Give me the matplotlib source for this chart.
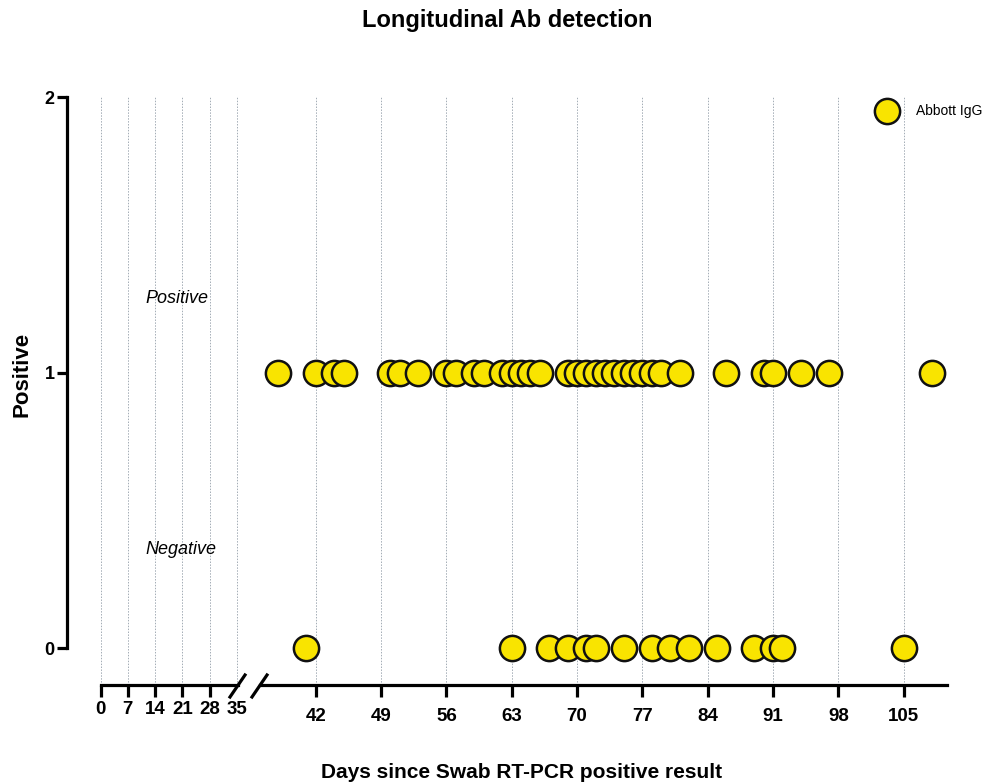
import matplotlib
matplotlib.use("Agg")
import matplotlib.pyplot as plt
from matplotlib.lines import Line2D

plt.rcParams['font.family'] = ['Liberation Sans', 'DejaVu Sans']

# days of each Abbott IgG result
pos_days = [38, 42, 44, 45, 50, 51, 53, 56, 57, 59, 60, 62, 63, 64, 65, 66,
            69, 70, 71, 72, 73, 74, 75, 76, 77, 78, 79, 81, 86, 90, 91, 94, 97, 108]
neg_days = [41, 63, 67, 69, 71, 72, 75, 78, 80, 82, 85, 89, 91, 92, 105]
pos_vals = [1] * len(pos_days)
neg_vals = [0] * len(neg_days)

left_ticks = [0, 7, 14, 21, 28, 35]
right_ticks = [42, 49, 56, 63, 70, 77, 84, 91, 98, 105]
y_ticks = [0, 1, 2]

W, H = 993, 783
def fx(px):
    return px / W
def fy(py):
    return 1 - py / H

fig = plt.figure(figsize=(W / 100, H / 100), dpi=100)

ybot = -0.134
ax1 = fig.add_axes([fx(100.7), fy(685), fx(237.9) - fx(100.7), fy(97) - fy(685)])
ax2 = fig.add_axes([fx(259.7), fy(685), fx(946.6) - fx(259.7), fy(97) - fy(685)])

yellow = '#f9e400'
for ax in (ax1, ax2):
    ax.set_ylim(ybot, 2)
    ax.spines['top'].set_visible(False)
    ax.spines['right'].set_visible(False)
    ax.spines['bottom'].set_linewidth(2.3)
    ax.grid(axis='x', color='#a3acb5', linestyle=(0, (1.5, 1.5)), linewidth=0.7)
    ax.set_axisbelow(True)
    ax.patch.set_visible(False)

ax1.set_xlim(0, 35.3)
ax1.set_xticks(left_ticks)
ax1.set_yticks(y_ticks)
ax1.spines['left'].set_position(('outward', 24.3))
ax1.spines['left'].set_bounds(0, 2)
ax1.spines['left'].set_linewidth(2.3)
ax1.tick_params(axis='x', direction='out', length=8.6, width=2.3, pad=3, labelsize=13.5)
ax1.tick_params(axis='y', direction='out', length=7, width=2.3, pad=2, labelsize=13)
ax1.xaxis.get_major_ticks()[-1].tick1line.set_visible(False)
for lbl in ax1.get_xticklabels() + ax1.get_yticklabels():
    lbl.set_fontweight('bold')

ax2.set_xlim(36, 109.6)
ax2.set_xticks(right_ticks)
ax2.spines['left'].set_visible(False)
ax2.set_yticks([])
ax2.tick_params(axis='x', direction='out', length=8.6, width=2.3, pad=8, labelsize=13.5)
for lbl in ax2.get_xticklabels():
    lbl.set_fontweight('bold')

ax2.scatter(neg_days, neg_vals, s=330, color=yellow, edgecolor='#111111',
            linewidth=1.8, zorder=3, clip_on=False)
ax2.scatter(pos_days, pos_vals, s=330, color=yellow, edgecolor='#111111',
            linewidth=1.8, zorder=3, clip_on=False, label='Abbott IgG')

ax1.text(11.4, 1.27, 'Positive', style='italic', fontsize=13, ha='left', va='center')
ax1.text(11.4, 0.356, 'Negative', style='italic', fontsize=13, ha='left', va='center')

# axis break marks
for x0 in (230, 252):
    fig.add_artist(Line2D([fx(x0), fx(x0 + 15)], [fy(697), fy(675)],
                          color='black', linewidth=2.3, transform=fig.transFigure))

fig.legend(loc='center left', bbox_to_anchor=(fx(873), fy(111)), frameon=False,
           fontsize=10, scatterpoints=1, handlelength=2.0, handletextpad=1.1,
           borderpad=0, borderaxespad=0)

fig.text(fx(507), fy(21), 'Longitudinal Ab detection', fontsize=17,
         fontweight='bold', ha='center', va='center')
fig.text(fx(522), fy(772), 'Days since Swab RT-PCR positive result', fontsize=15,
         fontweight='bold', ha='center', va='center')
fig.text(fx(22), fy(374), 'Positive', fontsize=16, fontweight='bold',
         rotation=90, ha='center', va='center')

fig.savefig('out.png', dpi=100)
